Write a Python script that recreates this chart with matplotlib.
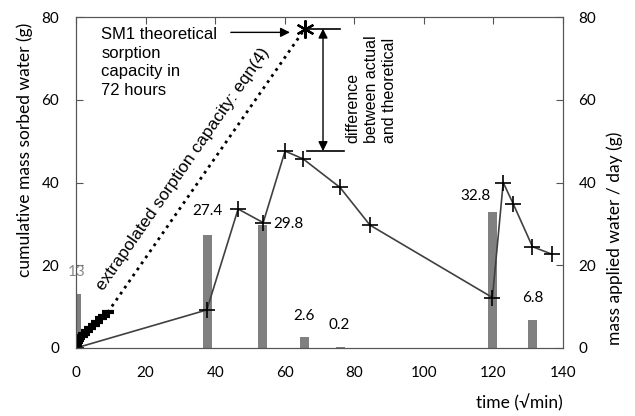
import numpy as np
import matplotlib.pyplot as plt

# cumulative mass sorbed water vs sqrt(time)
t_meas = [0, 37.6, 46.6, 53.8, 60.1, 65.3, 75.9, 84.5, 119.7, 122.8, 125.7, 131.2, 136.7]
m_meas = [0, 9.2, 33.6, 30.3, 47.6, 45.7, 38.8, 29.7, 12.2, 40.0, 34.8, 24.5, 22.7]

# early sorption data used for the extrapolation
t_early = [0.1, 0.3, 0.6, 1.0, 1.6, 2.3, 3.2, 4.0, 5.1, 6.0, 7.1, 8.0, 9.1]
m_early = [0.8, 1.4, 1.9, 2.4, 2.9, 3.4, 4.1, 4.8, 5.6, 6.3, 7.2, 7.8, 8.6]

# theoretical capacity at 72 h from eqn(4)
t_theo = 65.8
m_theo = 77.2

# water applied per day (right axis)
t_applied = [0, 37.9, 53.7, 65.7, 75.9, 119.8, 131.2]
m_applied = [13, 27.4, 29.8, 2.6, 0.2, 32.8, 6.8]
lbl_x = [0.2, 37.7, 61.2, 65.5, 75.7, 114.9, 131.2]
lbl_y = [18.4, 33.0, 30.0, 7.7, 5.5, 36.8, 12.0]
lbl_col = ['#8a8a8a', 'k', 'k', 'k', 'k', 'k', 'k']

tick_font = 'Lato'
ann_font = 'Liberation Sans'
spine_col = '#555555'

fig = plt.figure(figsize=(6.35, 4.16), dpi=100)
ax = fig.add_axes([0.1197, 0.1635, 0.767, 0.7955])
ax.set_xlim(0, 140)
ax.set_ylim(0, 80)

ax.bar(t_applied, m_applied, width=2.6, color='#808080', zorder=1)
ax.plot(t_meas, m_meas, color='#404040', lw=1.2, marker='+', ms=11,
        mec='k', mew=1.2, zorder=3)
ax.plot(t_early, m_early, ls='none', marker='_', ms=8, mew=3, color='k', zorder=3)
ax.plot([t_early[-1], t_theo], [m_early[-1], m_theo], ls=':', lw=2, color='k', zorder=2)
ax.plot([t_theo], [m_theo], ls='none', marker=(6, 2, 0), ms=13, mew=1.6,
        color='k', zorder=4)

for x, y, v, c in zip(lbl_x, lbl_y, m_applied, lbl_col):
    ax.text(x, y, f'{v:g}', ha='center', va='center', fontsize=11,
            family=tick_font, color=c)

# horizontal markers and double arrow for the difference
m_peak = max(m_meas)
ax.plot([t_theo, 75.9], [m_theo, m_theo], color='k', lw=1.2)
ax.plot([66.4, 77.0], [m_peak, m_peak], color='k', lw=1.2)
ax.annotate('', xy=(71, m_peak), xytext=(71, m_theo),
            arrowprops=dict(arrowstyle='<|-|>', color='k', lw=1.0,
                            mutation_scale=14, shrinkA=0, shrinkB=0))
ax.text(77.3, 49.5, 'difference\nbetween actual\nand theoretical',
        rotation=90, rotation_mode='anchor', ha='left', va='top',
        fontsize=11.5, family=ann_font, linespacing=1.3)

ax.annotate('', xy=(61.5, 76.3), xytext=(44.5, 76.3),
            arrowprops=dict(arrowstyle='-|>', color='k', lw=1.0,
                            mutation_scale=14, shrinkA=0, shrinkB=0))
ax.text(7.3, 77.6, 'SM1 theoretical\nsorption\ncapacity in\n72 hours',
        ha='left', va='top', fontsize=12, family=ann_font, linespacing=1.3)

# label along the extrapolation line, lifted off it by a few points
p0 = ax.transData.transform((t_early[-1], m_early[-1]))
p1 = ax.transData.transform((t_theo, m_theo))
ang = np.degrees(np.arctan2(p1[1] - p0[1], p1[0] - p0[0]))
nrm = np.array([-np.sin(np.radians(ang)), np.cos(np.radians(ang))]) * 11
ax.annotate('extrapolated sorption capacity: eqn(4)', xy=(35.5, 40.5),
            xytext=tuple(nrm), textcoords='offset points', rotation=ang,
            rotation_mode='anchor', ha='center', va='baseline',
            fontsize=12.5, family=ann_font)

ax.set_xticks(np.arange(0, 141, 20))
ax.set_yticks(np.arange(0, 81, 20))
ax.tick_params(axis='x', bottom=False, top=True, direction='in', length=5,
               color=spine_col, pad=13, labelsize=11)
ax.tick_params(axis='y', direction='in', length=5, color=spine_col,
               labelsize=11, pad=12)
for lab in ax.get_xticklabels() + ax.get_yticklabels():
    lab.set_family(tick_font)
for s in ax.spines.values():
    s.set_color(spine_col)
ax.set_ylabel('cumulative mass sorbed water (g)', fontsize=12.5, family=tick_font)
ax.yaxis.set_label_coords(-0.088, 0.60)
ax.set_xlabel('time (\u221amin)', fontsize=12.5, family=tick_font,
              loc='right', labelpad=10)

ax2 = ax.twinx()
ax2.set_ylim(0, 80)
ax2.set_yticks(np.arange(0, 81, 20))
ax2.tick_params(axis='y', direction='in', length=5, color=spine_col,
                labelsize=11, pad=11)
for lab in ax2.get_yticklabels():
    lab.set_family(tick_font)
for s in ax2.spines.values():
    s.set_color(spine_col)
ax2.set_ylabel('mass applied water / day (g)', fontsize=12.5, family=tick_font)
ax2.yaxis.set_label_coords(1.09, 0.33)

fig.savefig('out.png', dpi=100)
